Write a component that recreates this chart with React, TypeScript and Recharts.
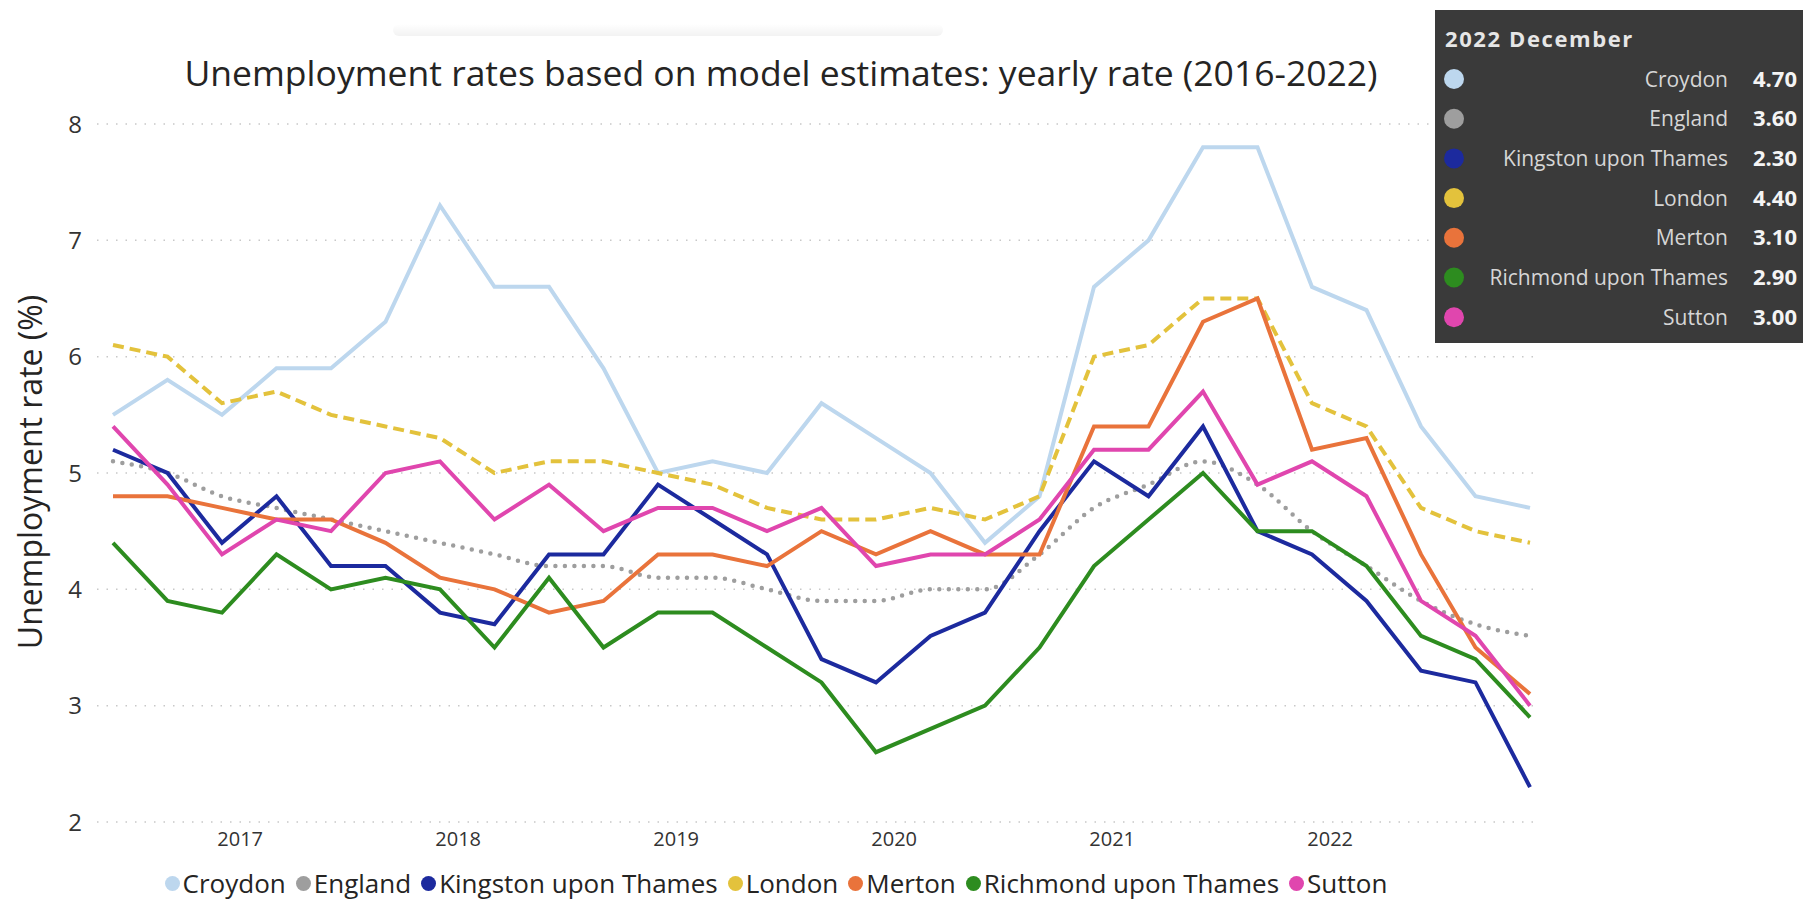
import React from "react"
import { CartesianGrid, Line, LineChart, XAxis, YAxis } from "recharts"

// quarterly yearly-rate estimates, Jun 2016 .. Dec 2022
const periods = [
  "2016-06", "2016-09", "2016-12",
  "2017-03", "2017-06", "2017-09", "2017-12",
  "2018-03", "2018-06", "2018-09", "2018-12",
  "2019-03", "2019-06", "2019-09", "2019-12",
  "2020-03", "2020-06", "2020-09", "2020-12",
  "2021-03", "2021-06", "2021-09", "2021-12",
  "2022-03", "2022-06", "2022-09", "2022-12",
]

const croydon = [5.5, 5.8, 5.5, 5.9, 5.9, 6.3, 7.3, 6.6, 6.6, 5.9, 5.0, 5.1, 5.0, 5.6, 5.3, 5.0, 4.4, 4.8, 6.6, 7.0, 7.8, 7.8, 6.6, 6.4, 5.4, 4.8, 4.7]
const england = [5.1, 5.0, 4.8, 4.7, 4.6, 4.5, 4.4, 4.3, 4.2, 4.2, 4.1, 4.1, 4.0, 3.9, 3.9, 4.0, 4.0, 4.3, 4.7, 4.9, 5.1, 4.9, 4.5, 4.2, 3.9, 3.7, 3.6]
const kingston = [5.2, 5.0, 4.4, 4.8, 4.2, 4.2, 3.8, 3.7, 4.3, 4.3, 4.9, 4.6, 4.3, 3.4, 3.2, 3.6, 3.8, 4.5, 5.1, 4.8, 5.4, 4.5, 4.3, 3.9, 3.3, 3.2, 2.3]
const london = [6.1, 6.0, 5.6, 5.7, 5.5, 5.4, 5.3, 5.0, 5.1, 5.1, 5.0, 4.9, 4.7, 4.6, 4.6, 4.7, 4.6, 4.8, 6.0, 6.1, 6.5, 6.5, 5.6, 5.4, 4.7, 4.5, 4.4]
const merton = [4.8, 4.8, 4.7, 4.6, 4.6, 4.4, 4.1, 4.0, 3.8, 3.9, 4.3, 4.3, 4.2, 4.5, 4.3, 4.5, 4.3, 4.3, 5.4, 5.4, 6.3, 6.5, 5.2, 5.3, 4.3, 3.5, 3.1]
const richmond = [4.4, 3.9, 3.8, 4.3, 4.0, 4.1, 4.0, 3.5, 4.1, 3.5, 3.8, 3.8, 3.5, 3.2, 2.6, 2.8, 3.0, 3.5, 4.2, 4.6, 5.0, 4.5, 4.5, 4.2, 3.6, 3.4, 2.9]
const sutton = [5.4, 4.9, 4.3, 4.6, 4.5, 5.0, 5.1, 4.6, 4.9, 4.5, 4.7, 4.7, 4.5, 4.7, 4.2, 4.3, 4.3, 4.6, 5.2, 5.2, 5.7, 4.9, 5.1, 4.8, 3.9, 3.6, 3.0]

const yearTicks = [2017, 2018, 2019, 2020, 2021, 2022]
const rateTicks = [2, 3, 4, 5, 6, 7, 8]

const series = [
  { key: "croydon", name: "Croydon", values: croydon, color: "#BDD7EE", curve: "linear", dash: undefined, cap: "butt", width: 4 },
  { key: "england", name: "England", values: england, color: "#9E9E9E", curve: "monotone", dash: "0 9.5", cap: "round", width: 4.5 },
  { key: "kingston", name: "Kingston upon Thames", values: kingston, color: "#1C2A9E", curve: "linear", dash: undefined, cap: "butt", width: 4 },
  { key: "london", name: "London", values: london, color: "#E3C23C", curve: "linear", dash: "11 6", cap: "butt", width: 4 },
  { key: "merton", name: "Merton", values: merton, color: "#E9733B", curve: "linear", dash: undefined, cap: "butt", width: 4 },
  { key: "richmond", name: "Richmond upon Thames", values: richmond, color: "#2D8C1F", curve: "linear", dash: undefined, cap: "butt", width: 4 },
  { key: "sutton", name: "Sutton", values: sutton, color: "#E046AE", curve: "linear", dash: undefined, cap: "butt", width: 4 },
]

const toMonth = (p: string) => {
  const [y, m] = p.split("-").map(Number)
  return y * 12 + m - 1
}

const rows = periods.map((p, i) => {
  const row: any = { m: toMonth(p) }
  series.forEach((s) => (row[s.key] = s.values[i]))
  return row
})

const font = "'Segoe UI', 'Open Sans', sans-serif"
const ink = "#252423"

const App = () => {
  const last = series.map((s) => s.values[s.values.length - 1])
  return (
    <div style={{ position: "absolute", left: 0, top: 0, width: 1803, height: 903, background: "#fff", overflow: "hidden" }}>
      <div
        style={{
          position: "absolute", left: 393, top: 24, width: 550, height: 12,
          background: "linear-gradient(to bottom, rgba(0,0,0,0), rgba(0,0,0,0.05))",
          borderRadius: 6,
        }}
      />
      <div style={{ position: "absolute", left: 0, top: 0 }}>
        <LineChart width={1803} height={903} data={rows} margin={{ top: 124, right: 265, bottom: 41, left: 37 }}>
          <CartesianGrid vertical={false} stroke="#c8c8c8" strokeDasharray="1.5 8" strokeWidth={1.5} />
          <XAxis
            type="number"
            dataKey="m"
            domain={[toMonth(periods[0]), toMonth(periods[periods.length - 1])]}
            ticks={yearTicks.map((y) => y * 12)}
            tickFormatter={(v: number) => String(v / 12)}
            interval={0}
            padding={{ left: 16, right: 8 }}
            axisLine={false}
            tickLine={false}
            tickSize={0}
            tickMargin={10}
            height={40}
            tick={{ fontSize: 20, fill: "#333", fontFamily: font }}
          />
          <YAxis
            type="number"
            domain={[2, 8]}
            ticks={rateTicks}
            interval={0}
            width={60}
            axisLine={false}
            tickLine={false}
            tickSize={0}
            tickMargin={15}
            tick={{ fontSize: 24, fill: "#333", fontFamily: font }}
          />
          {series.map((s) => (
            <Line
              key={s.key}
              type={s.curve as any}
              dataKey={s.key}
              name={s.name}
              stroke={s.color}
              strokeWidth={s.width}
              strokeDasharray={s.dash}
              strokeLinecap={s.cap as any}
              dot={false}
              activeDot={false}
              isAnimationActive={false}
            />
          ))}
        </LineChart>
      </div>

      <svg width={1803} height={903} style={{ position: "absolute", left: 0, top: 0, pointerEvents: "none" }}>
        <text x={781} y={86} textAnchor="middle" fontSize={35.5} fill={ink} fontFamily={font}>
          Unemployment rates based on model estimates: yearly rate (2016-2022)
        </text>
        <text transform="translate(42,472) rotate(-90)" textAnchor="middle" fontSize={32} fill={ink} fontFamily={font}>
          Unemployment rate (%)
        </text>

        <rect x={1435} y={10} width={368} height={333} fill="#3a3a3a" />
        <text x={1445} y={47} fontSize={22} fontWeight={700} fill="#e6e6e6" fontFamily={font} letterSpacing={1.6}>
          2022 December
        </text>
        {series.map((s, i) => {
          const cy = 79 + i * 39.7
          return (
            <g key={s.key}>
              <circle cx={1454} cy={cy} r={10} fill={s.color} />
              <text x={1728} y={cy + 7.5} textAnchor="end" fontSize={21} fill="#d6d6d6" fontFamily={font}>
                {s.name}
              </text>
              <text x={1753} y={cy + 7.5} fontSize={22} fontWeight={700} fill="#f4f4f4" fontFamily={font}>
                {last[i].toFixed(2)}
              </text>
            </g>
          )
        })}
      </svg>

      <div
        style={{
          position: "absolute", left: 0, top: 868, width: 1562, height: 30,
          display: "flex", justifyContent: "center", alignItems: "center",
          fontFamily: font, fontSize: 26, lineHeight: "30px", color: ink, whiteSpace: "nowrap",
        }}
      >
        {series.map((s) => (
          <div key={s.key} style={{ display: "flex", alignItems: "center", marginRight: 10 }}>
            <span style={{ width: 15, height: 15, borderRadius: "50%", background: s.color, marginRight: 3, display: "inline-block" }} />
            <span>{s.name}</span>
          </div>
        ))}
      </div>
    </div>
  )
}

export default App
